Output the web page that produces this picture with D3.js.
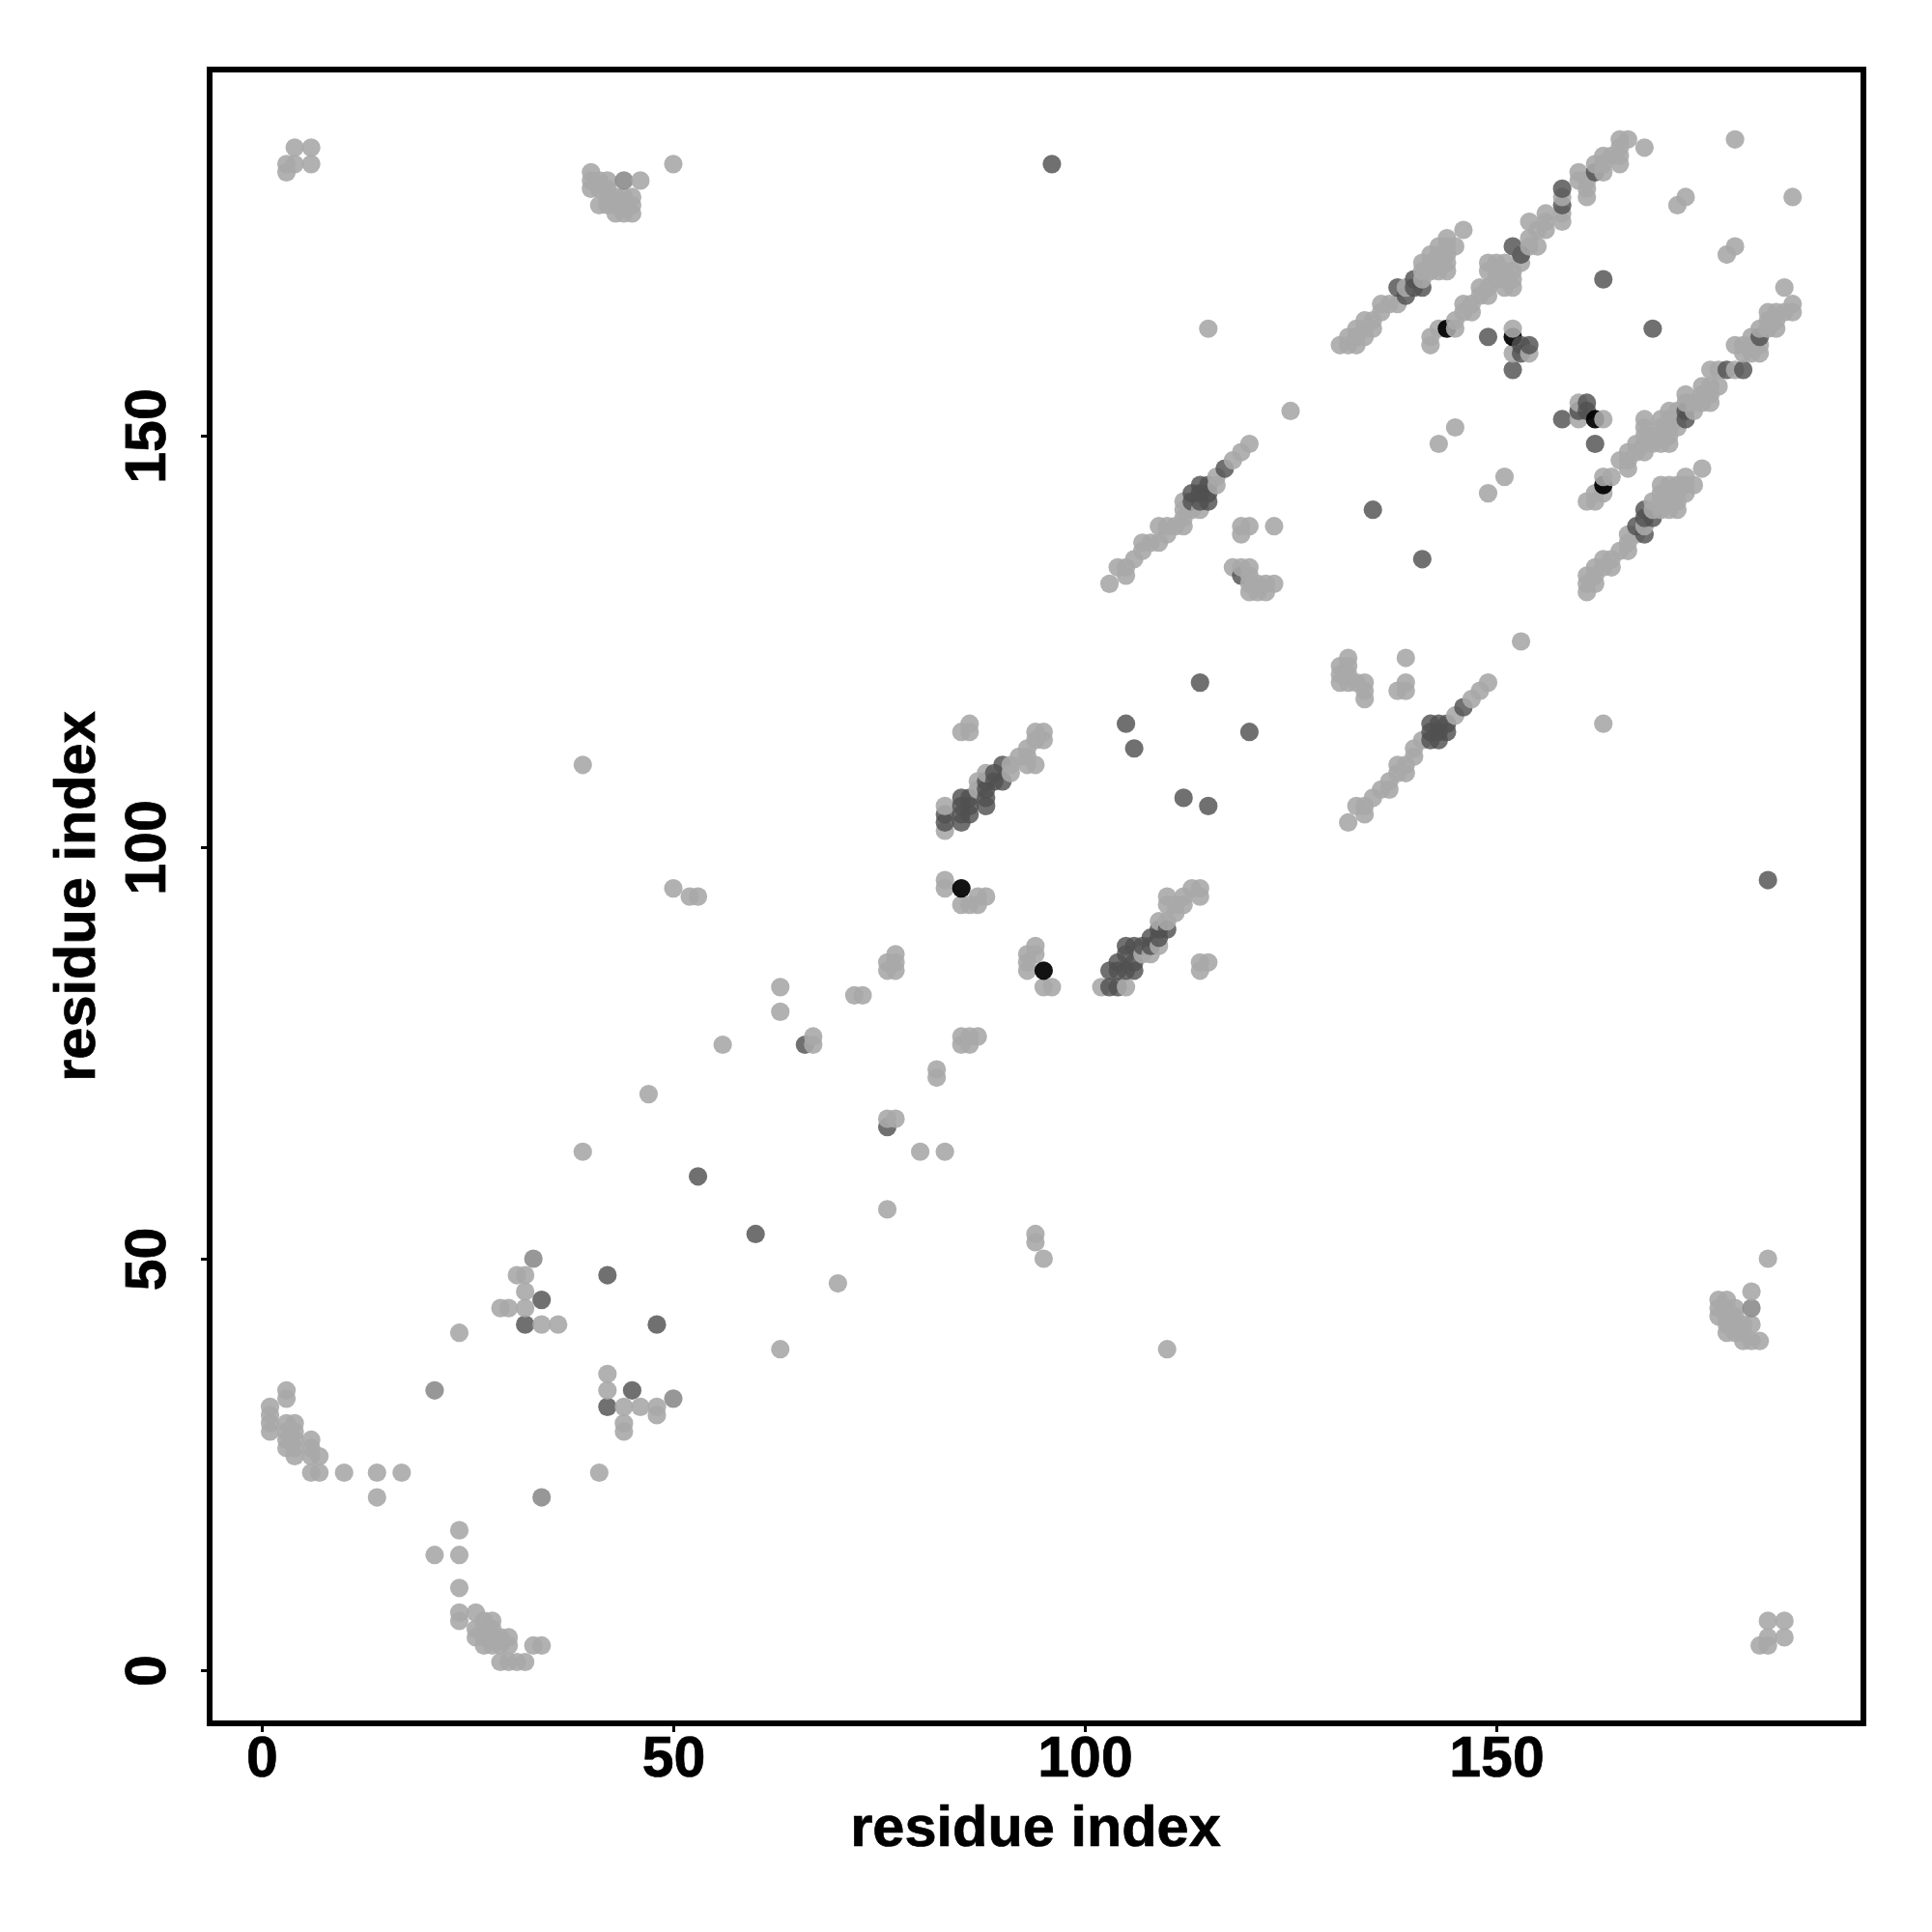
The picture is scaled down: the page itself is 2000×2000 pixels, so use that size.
<!DOCTYPE html>
<html><head><meta charset="utf-8">
<script src="https://cdn.jsdelivr.net/npm/d3@7"></script>
<style>html,body{margin:0;background:#fff}svg{display:block}text{font-family:"Liberation Sans",Arial,sans-serif;font-weight:bold;fill:#000;stroke:#000;stroke-width:.7px}</style>
</head><body><div id="chart"></div>
<script>
const xTicks=[0,50,100,150];
const yTicks=[0,50,100,150];
const xTitle="residue index";
const yTitle="residue index";
const contactsLight=[
[3,34],[3,33],[3,30],[3,29],[3,28],[3,27],[4,30],[4,29],[4,28],[4,27],[4,26],[6,28],[6,27],[6,26],[7,26],[6,24],[7,24],[10,24],[14,24],[17,24],[14,21],[41,24],[1,32],[1,31],[1,30],[1,29],
[24,41],[31,48],[32,48],[32,46],[29,44],[30,44],[32,44],[34,42],[36,42],[42,36],[42,34],[44,32],[46,32],[48,32],[48,31],[44,30],[44,29],
[24,17],[21,14],[24,14],[24,10],[24,7],[24,6],[26,7],[26,5],[27,6],[28,6],[26,4],[27,4],[27,5],[28,5],[28,4],[29,4],[30,4],[27,3],[28,3],[29,3],[30,3],[33,3],[34,3],[29,1],[30,1],[31,1],[32,1],
[3,183],[3,182],[4,185],[4,183],[6,185],[6,183],
[40,182],[40,181],[40,180],[41,181],[41,180],[41,178],[42,181],[42,180],[42,179],[42,178],[43,179],[43,178],[43,177],[44,179],[44,178],[44,177],[45,179],[45,178],[45,177],[46,181],[50,183],
[103,132],[104,134],[105,133],[105,134],[106,135],[107,136],[107,137],[108,137],[109,137],[109,139],[110,138],[110,139],[111,139],[112,139],[112,140],[112,141],[112,142],[113,141],[114,141],[116,144],[116,145],[118,147],[119,148],[120,149],
[119,139],[120,139],[123,139],[119,138],[118,134],[119,134],[120,134],[120,133],[120,132],[120,131],[121,131],[122,131],[122,132],[123,132],[121,132],[125,153],[115,163],
[143,149],[145,151],[149,143],[151,145],[160,154],[160,153],[160,152],[163,152],[152,163],[152,160],[154,160],
[161,131],[161,132],[161,133],[162,132],[162,133],[162,134],[163,134],[163,135],[164,134],[164,135],[165,136],[166,136],[166,137],[166,138],[167,138],[168,139],[169,141],[169,142],[170,141],[170,142],[170,143],[170,144],[171,141],[171,142],[171,143],[171,144],[172,141],[172,142],[172,143],[172,144],[173,143],[173,144],[173,145],[174,144],[175,146],
[161,142],[162,142],[162,143],[163,143],[163,145],[164,145],[165,147],[166,146],[166,147],[166,148],[167,148],[167,149],[168,148],[168,149],[168,150],[168,151],[168,152],[169,149],[169,150],[170,149],[170,150],[170,151],[170,152],[171,149],[171,150],[171,151],[171,152],[171,153],[172,151],[172,152],[172,153],[173,154],[173,155],[174,153],[174,154],[175,154],[175,155],[175,156],[176,154],[176,155],[176,156],[177,156],[176,158],[177,158],[179,158],[179,161],[180,160],[180,161],[181,160],[182,160],[181,161],[182,161],[181,162],[182,163],[183,163],[184,163],[183,164],[184,164],[183,165],[184,165],[185,165],[186,165],[186,166],[185,168],
[131,161],[132,161],[133,161],[132,162],[133,162],[134,162],[133,163],[134,163],[134,164],[135,163],[135,164],[136,165],[136,166],[137,166],[138,166],[139,168],[141,169],[141,170],[141,171],[142,170],[142,171],[142,172],[143,170],[143,171],[143,172],[143,173],[144,170],[144,171],[144,172],[144,173],[144,174],[145,173],[146,175],
[142,161],[142,162],[143,163],[145,163],[145,164],[146,165],[146,166],[147,165],[147,166],[148,167],[148,168],[149,167],[149,168],[149,170],[149,171],[150,169],[150,170],[150,171],[151,168],[151,169],[151,170],[151,171],[152,168],[152,169],[152,170],[153,171],[153,172],[154,173],[154,174],[155,173],[155,175],[154,176],[156,175],[156,176],[156,177],[158,176],[158,177],[158,179],[160,181],[160,182],[161,179],[161,180],[161,181],[162,183],[163,182],[163,183],[163,184],[164,184],[165,183],[165,184],[165,185],[165,186],[166,186],[168,185],
[173,179],[172,178],[186,179],[179,186],[179,173],[178,172],
[132,103],[133,105],[134,105],[134,104],[135,106],[136,107],[137,108],[137,107],[138,110],[138,109],[139,110],[139,109],[140,111],[140,112],[141,113],[145,116],[147,118],[148,119],[149,120],[153,125],[163,115],
[132,123],[131,122],[131,121],[131,120],[132,122],[132,121],[132,120],[133,120],[134,120],[134,119],[134,118],[139,123],[139,120],[139,119],[138,119],
[86,115],[85,114],[86,114],[94,114],[95,114],[95,113],[94,113],[93,112],[92,111],[93,111],[93,110],[94,110],[91,110],[91,109],[88,109],[87,108],[87,107],[83,105],[83,102],[83,96],[83,95],[85,93],[86,93],[87,93],[87,94],[88,94],
[94,88],[93,87],[94,87],[93,86],[93,85],[95,83],[96,83],[102,83],[105,83],[107,87],[108,87],[109,88],[109,91],[110,91],[110,94],[110,93],[111,92],[111,93],[112,93],[112,94],[113,95],[114,95],[114,94],[114,85],[114,86],[115,86],
[82,73],[82,72],[85,77],[86,77],[87,77],[85,76],[86,76],
[39,110],[50,95],[52,94],[53,94],[77,87],[76,86],[77,86],[76,85],[77,85],[63,83],[63,80],[72,82],[73,82],[56,76],[67,77],[67,76],[47,70],[39,63],[76,67],[77,67],[80,63],[83,63],[76,56],[94,53],[94,52],[95,50],[70,47],[63,39],[110,39],
[177,45],[178,45],[177,44],[177,43],[178,44],[178,43],[178,42],[179,44],[179,43],[179,42],[178,41],[179,41],[180,42],[181,42],[180,41],[180,40],[181,40],[182,40],[181,46],[183,50],[183,6],[185,6],[185,4],[182,3],[183,3],[183,4]
];
const contactsMid=[[33,50],[21,34],[50,33],[34,21],[44,181],[181,44]];
const contactsDark=[
[96,183],[42,48],[34,45],[32,42],[48,42],[45,34],[42,32],[53,60],[60,53],[66,76],[76,66],
[135,141],[141,135],[114,120],[105,115],[106,112],[120,114],[112,106],[115,105],[183,96],[163,169],[169,163],
[114,142],[114,143],[115,142],[115,143],[115,144],[113,142],[113,143],[114,144],[117,146],[119,133],
[149,162],[153,161],[154,161],[153,160],[152,158],[158,152],[161,154],[161,153],[160,153],[162,149],
[138,168],[139,167],[140,169],[140,168],[141,168],[152,173],[153,172],[158,180],[158,178],[162,182],
[168,138],[167,139],[169,140],[168,141],[168,140],[173,152],[173,153],[178,158],[180,158],[182,162],
[142,115],[142,113],[143,115],[143,114],[142,114],[144,115],[144,114],[143,113],[146,117],
[90,110],[90,108],[89,109],[89,108],[88,108],[88,107],[88,106],[88,105],[85,106],[86,106],[85,105],[85,104],[86,105],[86,104],[85,103],[83,104],[83,103],
[103,83],[104,83],[103,85],[104,86],[104,85],[105,85],[106,85],[105,88],[106,88],[105,87],[106,86],[107,88],[108,89],[109,90],[110,90],[109,89],[108,88]
];
const contactsBlack=[[85,95],[95,85],[144,163],[152,162],[162,152],[163,144]];

const groups=[
 {points:contactsLight,fill:"#a8a8a8",op:0.9},
 {points:contactsMid,fill:"#8c8c8c",op:0.9},
 {points:contactsDark,fill:"#505050",op:0.82},
 {points:contactsBlack,fill:"#000000",op:0.93}
];
const all=groups.flatMap(g=>g.points.map(p=>({x:p[0],y:p[1],fill:g.fill,op:g.op})))
  .sort((a,b)=>a.x-b.x||a.y-b.y);

const size=2000;
const svg=d3.select("#chart").append("svg").attr("width",size).attr("height",size);
const x=d3.scaleLinear().domain([0,150]).range([271,1549]);
const y=d3.scaleLinear().domain([0,150]).range([1729,451]);
const frame={l:217,r:1929,t:72,b:1784};
const xAxis=d3.axisBottom(x).tickValues(xTicks).tickSize(9).tickPadding(0).tickFormat(d3.format("d"));
const yAxis=d3.axisLeft(y).tickValues(yTicks).tickSize(9).tickPadding(0).tickFormat(d3.format("d"));
const gx=svg.append("g").attr("transform",`translate(0,${frame.b})`).call(xAxis);
const gy=svg.append("g").attr("transform",`translate(${frame.l},0)`).call(yAxis);
[gx,gy].forEach(g=>{g.select(".domain").remove();g.selectAll("line").attr("stroke","#000").attr("stroke-width",3);});
gx.selectAll("text").attr("font-size",59).attr("y",0).attr("dy",0).attr("transform","translate(0,55)").attr("text-anchor","middle");
gy.selectAll("text").attr("font-size",59).attr("x",0).attr("dy",0)
  .attr("transform",d=>`translate(${171-frame.l},0) rotate(-90)`).attr("text-anchor","middle");
svg.append("g").selectAll("circle").data(all).join("circle")
  .attr("cx",d=>x(d.x)).attr("cy",d=>y(d.y)).attr("r",9.6)
  .attr("fill",d=>d.fill).attr("fill-opacity",d=>d.op);
svg.append("rect").attr("x",frame.l).attr("y",frame.t).attr("width",frame.r-frame.l).attr("height",frame.b-frame.t)
  .attr("fill","none").attr("stroke","#000").attr("stroke-width",6);
svg.append("text").attr("x",(frame.l+frame.r)/2-1).attr("y",1911).attr("text-anchor","middle").attr("font-size",59.5).text(xTitle);
svg.append("text").attr("transform",`translate(98,${(frame.t+frame.b)/2}) rotate(-90)`).attr("text-anchor","middle").attr("font-size",59.5).text(yTitle);
</script></body></html>
